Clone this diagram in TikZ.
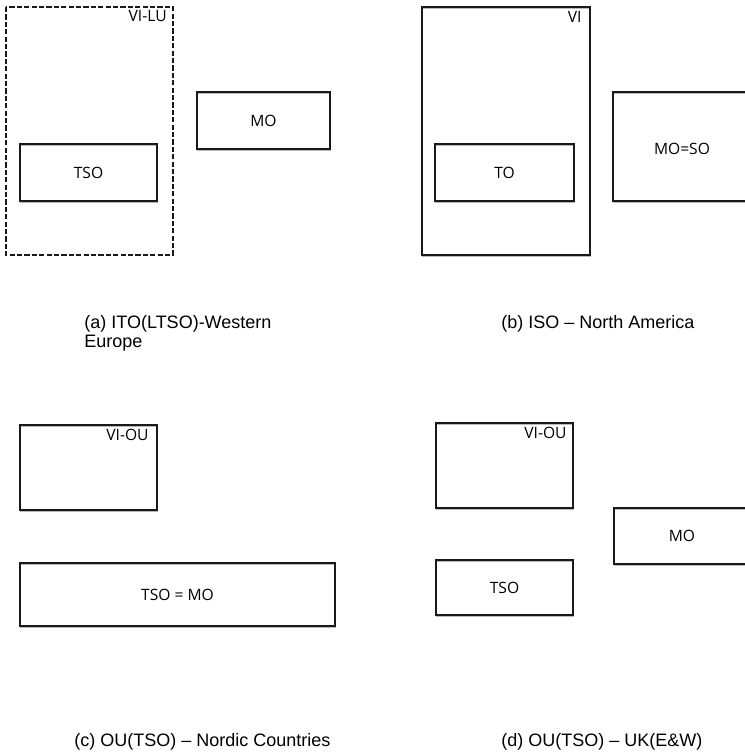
\documentclass[tikz,border=0pt]{standalone}
\usepackage{fontspec}
\setmainfont{Open Sans}
\newfontfamily\capfont{Liberation Sans}
\usepackage{tikz}
\usetikzlibrary{positioning}

\tikzset{
  box/.style={draw=black!90,line width=0.7pt,
    preaction={draw=gray!55,line width=0.7pt,transform canvas={xshift=0.3pt,yshift=-0.6pt}}},
  dashbox/.style={draw=black!90,line width=0.7pt,dash pattern=on 2.6pt off 1.1pt},
  lbl/.style={font=\fontsize{7.8}{9}\selectfont,inner sep=0pt},
  caption/.style={font=\capfont\fontsize{9}{9.5}\selectfont,align=left,anchor=base west,inner sep=0pt}
}

\begin{document}
\begin{tikzpicture}[x=0.5pt,y=-0.5pt]
    \useasboundingbox (0,0) rectangle (745,752);
    % (a) ITO
    \draw[dashbox] (6,7) rectangle (173,255);
    \node[lbl,anchor=north east] (vilu) at (167,10) {VI-LU};
    \draw[box] (20,144) rectangle (157,201);
    \node[lbl] (tsoa) at (88.5,172.5) {TSO};
    \draw[box] (197,92) rectangle (330,149);
    \node[lbl] (moa) at (263.5,120.5) {MO};
    \node[caption] (capa) at (84,347) {(a) ITO(LTSO)-Western\\Europe};
    % (b) ISO
    \draw[box] (422,7) rectangle (590,255);
    \node[lbl,anchor=north east] (vi) at (582,11) {VI};
    \draw[box] (435,144) rectangle (574,201);
    \node[lbl] (to) at (504.5,172.5) {TO};
    \draw[box] (613,92) rectangle (746,201);
    \node[lbl] (moso) at (682,149) {MO=SO};
    \node[caption] (capb) at (501,328) {(b) ISO – North America};
    % (c) Nordic
    \draw[box] (20,425) rectangle (157,510);
    \node[lbl,anchor=north east] (vioc) at (149,429) {VI-OU};
    \draw[box] (20,563) rectangle (335,626);
    \node[lbl] (tsomo) at (177.5,594.5) {TSO = MO};
    \node[caption] (capc) at (74,746) {(c) OU(TSO) – Nordic Countries};
    % (d) UK
    \draw[box] (436,423) rectangle (573,508);
    \node[lbl,anchor=north east] (viod) at (567,427) {VI-OU};
    \draw[box] (614,508) rectangle (746,564);
    \node[lbl] (mod) at (682,536) {MO};
    \draw[box] (436,560) rectangle (573,615);
    \node[lbl] (tsod) at (504.5,587.5) {TSO};
    \node[caption] (capd) at (501,746) {(d) OU(TSO) – UK(E\&W)};
\end{tikzpicture}
\end{document}
